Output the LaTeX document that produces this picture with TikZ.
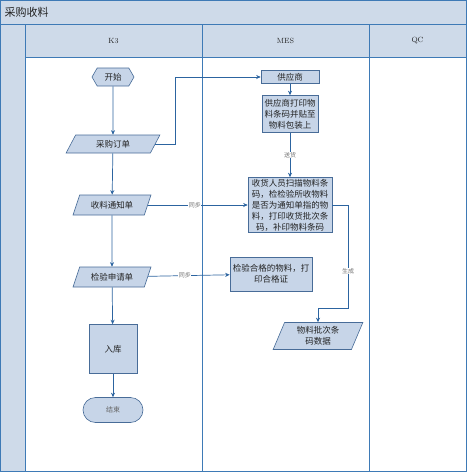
\documentclass[tikz,border=0pt]{standalone}
\usepackage{fontspec}
\newfontfamily\cjk{Noto Sans CJK SC}
\usetikzlibrary{arrows.meta,shapes.geometric,shapes.symbols,shapes.misc}
\definecolor{boxfill}{RGB}{199,213,232}
\definecolor{boxdraw}{RGB}{72,108,152}
\definecolor{lanefill}{RGB}{206,218,233}
\definecolor{laneline}{RGB}{62,122,182}
\definecolor{arrowblue}{RGB}{44,100,160}
\definecolor{txt}{RGB}{35,35,35}
\tikzset{
  base/.style={draw=boxdraw, fill=boxfill, text=txt, inner sep=1pt, align=center,
    line width=0.6pt, font=\cjk\fontsize{8.5}{11}\selectfont},
  procbox/.style={base, rectangle},
  databox/.style={base, trapezium, trapezium left angle=65, trapezium right angle=115,
    trapezium stretches=true},
  termhex/.style={base, signal, signal to=west and east, signal pointer angle=120},
  termround/.style={base, rounded rectangle},
  arr/.style={draw=arrowblue, line width=0.7pt, -{Stealth[length=4.5pt,width=4pt]}},
  lbl/.style={fill=white, text=black!55, inner sep=0.5pt, font=\cjk\fontsize{6}{7}\selectfont}
}
\begin{document}
\begin{tikzpicture}[x=1pt,y=-1pt]
    % lanes
        \useasboundingbox (0,0) rectangle (467,472);
        \fill[lanefill] (0.5,0.5) rectangle (466.5,24);
        \fill[lanefill] (25,24) rectangle (466.5,57);
        \fill[lanefill] (0.5,24) rectangle (25,471.5);
        \draw[laneline, line width=0.9pt] (0.5,0.5) rectangle (466.5,471.5);
        \draw[laneline, line width=0.9pt] (0.5,24) -- (466.5,24);
        \draw[laneline, line width=0.9pt] (25,57) -- (466.5,57);
        \foreach \x in {25,202,369} \draw[laneline, line width=0.9pt] (\x,24) -- (\x,471.5);
        \node[anchor=west, text=txt, font=\cjk\fontsize{11}{13}\selectfont] (title) at (1,12) {采购收料};
        \node[text=txt, font=\fontsize{7.5}{9}\selectfont] (k3) at (113.5,41) {K3};
        \node[text=txt, font=\fontsize{7.5}{9}\selectfont] (mes) at (285.5,41) {MES};
        \node[text=txt, font=\fontsize{7.5}{9}\selectfont] (qc) at (417.5,41) {QC};

    % K3 column
        \node[termhex, minimum width=42pt, minimum height=18pt] (start) at (113,77) {开始};
        \node[databox, minimum width=94pt, minimum height=18pt] (order) at (113,144) {采购订单};
        \node[databox, minimum width=78pt, minimum height=20pt] (notice) at (112,205) {收料通知单};
        \node[databox, minimum width=78pt, minimum height=20pt] (inspreq) at (112,277) {检验申请单};
        \node[procbox, minimum width=48pt, minimum height=49pt] (stock) at (113,349) {入库};
        \node[termround, minimum width=62pt, minimum height=25pt, text=black!60,
            font=\cjk\fontsize{7}{9}\selectfont] (finish) at (113,410) {结束};

    % MES column
        \node[procbox, minimum width=58pt, minimum height=13pt] (supplier) at (290,77) {供应商};
        \node[procbox, text width=54pt, minimum height=37pt] (print) at (290,114) {供应商打印物\\料条码并贴至\\物料包装上};
        \node[procbox, text width=82pt, minimum height=55pt] (receive) at (290,205)
            {收货人员扫描物料条\\码，检检验所收物料\\是否为通知单指的物\\料，打印收货批次条\\码，补印物料条码};
        \node[procbox, text width=80pt, minimum height=34pt] (qualify) at (271,274) {检验合格的物料，打\\印合格证};
        \node[databox, trapezium left angle=70, trapezium right angle=110,
            minimum width=90pt, minimum height=27pt] (batch) at (318,336) {物料批次条\\码数据};

    % connectors
        \coordinate (c1) at (175,77);
        \coordinate (c2) at (348,308);
        \draw[arr] (start) -- (order);
        \draw[arr] (order) -- (notice);
        \draw[arr] (notice) -- (inspreq);
        \draw[arr] (inspreq) -- (stock);
        \draw[arr] (stock) -- (finish);
        \draw[arr] (order.east) -- (order.east -| c1) -- (c1) -- (supplier.west);
        \draw[arr] (supplier) -- (print);
        \draw[arr] (print) -- node[lbl] {送货} (receive);
        \draw[arr] (notice) -- node[lbl, pos=0.47] {同步} (receive);
        \draw[arr] (inspreq) -- node[lbl, pos=0.45] {同步} (qualify);
        \draw[arr] (receive.east) -| node[lbl, pos=0.82] {生成} (c2) -| (batch.north);
\end{tikzpicture}
\end{document}
